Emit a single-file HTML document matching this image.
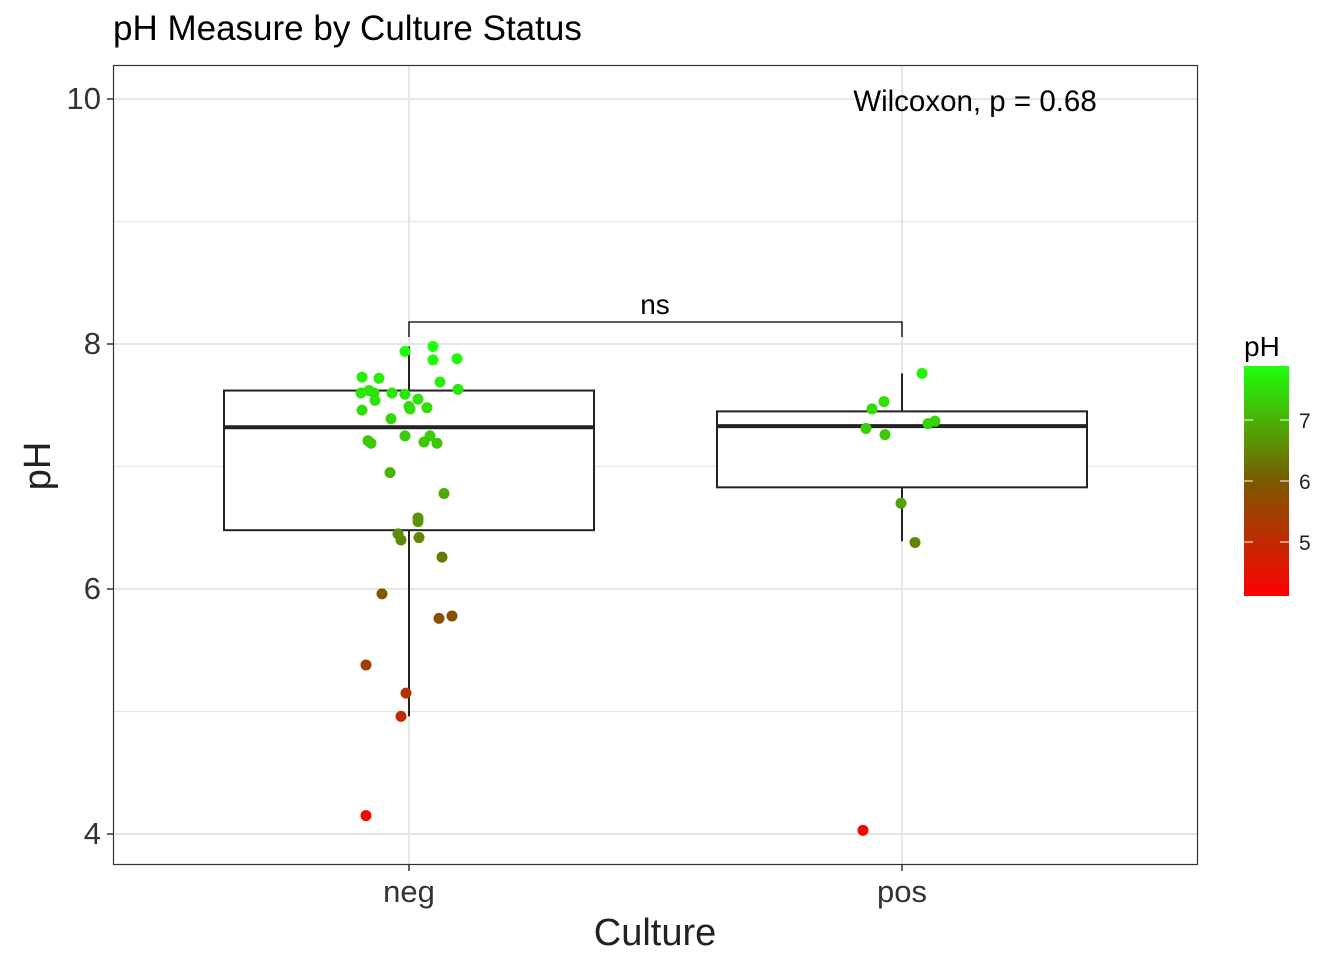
<!DOCTYPE html>
<html><head><meta charset="utf-8"><style>
html,body{margin:0;padding:0;background:#fff;}
svg{display:block;font-family:"Liberation Sans",Arial,sans-serif;}
</style></head><body>
<svg id="chart" width="1344" height="960" viewBox="0 0 1344 960">
<defs><linearGradient id="cg" x1="0" y1="1" x2="0" y2="0">
<stop offset="0" stop-color="#ff0000"/><stop offset="0.5" stop-color="#7a5a00"/><stop offset="1" stop-color="#1eff0a"/></linearGradient></defs>
<rect x="0" y="0" width="1344" height="960" fill="#fff"/>
<text x="113" y="40" font-size="35" fill="#000">pH Measure by Culture Status</text>
<g id="grid"></g>
<g id="boxes"></g>
<g id="points"></g>
<rect x="113.5" y="65.5" width="1084" height="799" fill="none" stroke="#333" stroke-width="1.2"/>
<g id="axes"></g>
<text x="975" y="111" font-size="29.5" text-anchor="middle">Wilcoxon, p = 0.68</text>
<text x="655" y="945" font-size="38" text-anchor="middle" fill="#222">Culture</text>
<text x="0" y="0" font-size="38" text-anchor="middle" fill="#222" transform="translate(50,466) rotate(-90)">pH</text>
<g>
<text x="1244" y="356" font-size="28">pH</text>
<rect x="1244" y="366" width="45" height="230" fill="url(#cg)"/>
<g id="legticks"></g>
</g>
</svg>
<script>
const categories=["neg","pos"];
const negValues=[7.73,7.72,7.60,7.62,7.60,7.54,7.60,7.59,7.55,7.49,7.47,7.48,7.63,7.69,7.46,7.39,7.21,7.19,7.25,7.25,7.20,7.19,6.95,6.78,6.58,6.55,6.45,6.40,6.42,6.26,5.96,5.76,5.78,5.38,5.15,4.96,4.15,7.94,7.98,7.87,7.88];
const negJitter=[-47,-30,-48,-40,-35,-34,-17,-4,9,0,1,18,49,31,-47,-18,-41,-38,-4,21,15,28,-19,35,9,9,-11,-8,10,33,-27,30,43,-43,-3,-8,-43,-4,24,24,48];
const posValues=[7.76,7.53,7.47,7.31,7.26,7.35,7.37,6.70,6.38,4.03];
const posJitter=[20,-18,-30,-36,-17,26,33,-1,13,-39];
const boxStats={neg:[4.96,6.48,7.32,7.62,7.98],pos:[6.39,6.83,7.33,7.45,7.76]};
const yTicks=[4,6,8,10];
const legTicks=[5,6,7];
const phMin=4.03, phMax=7.98;
const NS="http://www.w3.org/2000/svg";
const y=v=>834-(v-4)*122.5;
const x=c=>409+categories.indexOf(c)*493;
const ly=v=>420+(7-v)*61;
function mk(tag,attrs,parent){const e=document.createElementNS(NS,tag);for(const k in attrs)e.setAttribute(k,attrs[k]);document.getElementById(parent).appendChild(e);return e;}
function col(v){let t=(v-phMin)/(phMax-phMin);t=Math.max(0,Math.min(1,t));let a,b,u;
 if(t<0.5){a=[255,0,0];b=[122,90,0];u=t/0.5;}else{a=[122,90,0];b=[30,255,10];u=Math.pow((t-0.5)/0.5,0.8);}
 return `rgb(${a.map((c,i)=>Math.round(c+(b[i]-c)*u)).join(',')})`;}
for(let v=4;v<=10;v+=1){const e=mk('line',{x1:114,x2:1197,y1:y(v),y2:y(v),stroke:'#e6e6e6','stroke-width':v%2===0?2:1.2},'grid');
}
categories.forEach(c=>{const e=mk('line',{x1:x(c),x2:x(c),y1:66,y2:864,stroke:'#e6e6e6','stroke-width':2},'grid');
});
categories.forEach(c=>{const s=boxStats[c],cx=x(c),hw=185;
 const g=mk('g',{},'boxes');
 const add=(t,a)=>{const e=document.createElementNS(NS,t);for(const k in a)e.setAttribute(k,a[k]);g.appendChild(e);return e;};
 add('line',{x1:cx,x2:cx,y1:y(s[0]),y2:y(s[1]),stroke:'#222','stroke-width':2});
 add('line',{x1:cx,x2:cx,y1:y(s[3]),y2:y(s[4]),stroke:'#222','stroke-width':2});
 add('rect',{x:cx-hw,y:y(s[3]),width:2*hw,height:y(s[1])-y(s[3]),fill:'#fff',stroke:'#222','stroke-width':2});
 add('line',{x1:cx-hw,x2:cx+hw,y1:y(s[2]),y2:y(s[2]),stroke:'#222','stroke-width':4});
});
[[negValues,negJitter,'neg'],[posValues,posJitter,'pos']].forEach(([vals,jit,c])=>{
 vals.forEach((v,i)=>{const e=mk('circle',{cx:x(c)+jit[i],cy:y(v),r:5.5,fill:col(v)},'points');
 });});
const br=mk('path',{d:`M${x('neg')},337V322H${x('pos')}V337`,fill:'none',stroke:'#000','stroke-width':1.3},'axes');

const ns=mk('text',{x:655,y:314,'font-size':28,'text-anchor':'middle'},'axes');ns.textContent='ns';

yTicks.forEach(v=>{const t=mk('line',{x1:107,x2:113,y1:y(v),y2:y(v),stroke:'#333','stroke-width':1.5},'axes');

const l=mk('text',{x:101,y:y(v)+10,'font-size':31,'text-anchor':'end',fill:'#333'},'axes');l.textContent=v;
});
categories.forEach(c=>{const t=mk('line',{x1:x(c),x2:x(c),y1:865,y2:871,stroke:'#333','stroke-width':1.5},'axes');

const l=mk('text',{x:x(c),y:902,'font-size':31,'text-anchor':'middle',fill:'#333'},'axes');l.textContent=c;
});
legTicks.forEach(v=>{mk('line',{x1:1244,x2:1253,y1:ly(v),y2:ly(v),stroke:'#fff','stroke-width':1},'legticks');
mk('line',{x1:1280,x2:1289,y1:ly(v),y2:ly(v),stroke:'#fff','stroke-width':1},'legticks');
const l=mk('text',{x:1299,y:ly(v)+8,'font-size':21,fill:'#222'},'legticks');l.textContent=v;
});
</script>
</body></html>
